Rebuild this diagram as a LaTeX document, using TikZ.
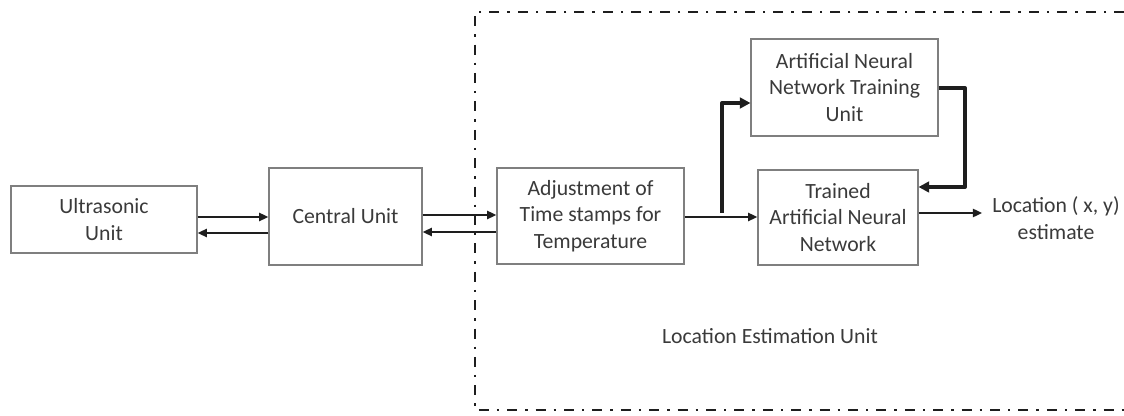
\documentclass[tikz,border=0pt]{standalone}
\usepackage{fontspec}
\setmainfont{Carlito}
\usetikzlibrary{arrows.meta, calc, positioning}
\definecolor{boxgray}{HTML}{7F7F7F}
\definecolor{textgray}{HTML}{3A3A3A}
\definecolor{linegray}{HTML}{1E1E1E}

\tikzset{
  unitbox/.style={draw=boxgray, line width=0.8pt, align=center, text=textgray,
    inner sep=0pt, font=\fontsize{16.3}{20}\selectfont},
  flow/.style={draw=linegray, line width=1.7pt, -{Triangle[length=7pt, width=6pt]}},
  flowthick/.style={draw=linegray, line width=3pt, line join=round,
    -{Triangle[length=8pt, width=8pt]}},
  frameline/.style={draw=linegray, line width=2.2pt,
    dash pattern=on 7.5pt off 6pt on 1.8pt off 6pt}
}

\begin{document}
\begin{tikzpicture}[x=0.75pt, y=-0.75pt]
\useasboundingbox (0,0) rectangle (1124,416);

% location estimation frame (open to the right)
\draw[frameline] (1124,12) -- (475,12) -- (475,410) -- (1124,410);
\node[font=\fontsize{16.3}{20}\selectfont, text=textgray] (frametitle) at (770,336)
  {Location Estimation Unit};

% units
\node[unitbox, minimum width=139.5pt, minimum height=50.25pt] (ultra) at (104,219.5)
  {Ultrasonic\\Unit};
\node[unitbox, minimum width=114.75pt, minimum height=72.75pt] (central) at (345.5,216.5)
  {Central Unit};
\node[unitbox, minimum width=140.25pt, minimum height=72pt] (adjust) at (590.5,216)
  {Adjustment of\\Time stamps for\\Temperature};
\node[unitbox, minimum width=140.25pt, minimum height=72.75pt] (training) at (844.5,87.5)
  {Artificial Neural\\Network Training\\Unit};
\node[unitbox, minimum width=120pt, minimum height=71.25pt] (trained) at (838,217.5)
  {Trained\\Artificial Neural\\Network};
\node[font=\fontsize{16.3}{20}\selectfont, text=textgray, align=center] (loc) at (1056,218)
  {Location ( x, y)\\estimate};

% two-way links
\draw[flow] (ultra.east |- 0,217) -- (central.west |- 0,217);
\draw[flow] (central.west |- 0,233) -- (ultra.east |- 0,233);
\draw[flow] (central.east |- 0,215) -- (adjust.west |- 0,215);
\draw[flow] (adjust.west |- 0,232) -- (central.east |- 0,232);

% adjusted stamps to network and training
\coordinate (split) at (722,213);
\coordinate (bend) at (965,88);
\draw[flow] (adjust.east |- 0,217) -- (trained.west |- 0,217);
\draw[flowthick] (split) |- (training.west |- 0,103);
\draw[flowthick] (training.east |- bend) -- (bend) |- (trained.east |- 0,187);

% output
\draw[flow] (trained.east |- 0,213) -- ([xshift=-4pt]loc.west |- 0,213);
\end{tikzpicture}
\end{document}
